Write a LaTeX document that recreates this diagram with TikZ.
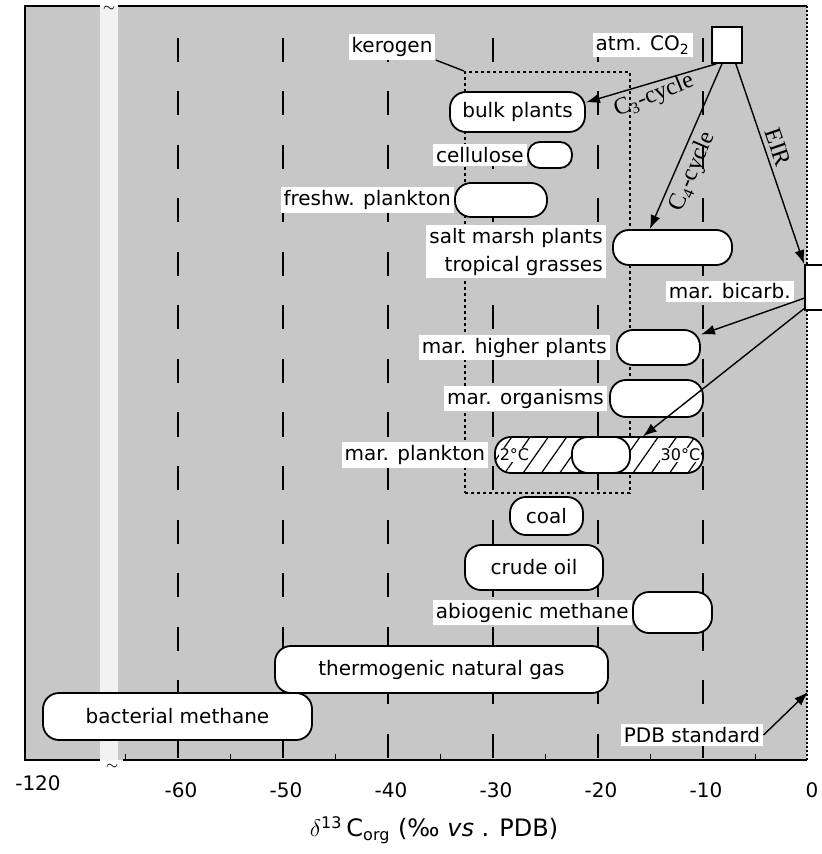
\documentclass[tikz,border=0pt]{standalone}
\usepackage{fontspec}
\setmainfont{DejaVu Sans}
\newfontfamily\cycfont{Liberation Serif}
\usetikzlibrary{arrows.meta, positioning, patterns.meta}

\begin{document}
\begin{tikzpicture}[
	x=0.5pt, y=-0.5pt,
	every node/.style={font=\normalsize},
	blob/.style={draw, line width=0.9pt, fill=white, rounded corners=8pt, inner sep=0pt},
	pool/.style={draw, line width=0.9pt, fill=white, inner sep=0pt, minimum width=15pt},
	tag/.style={fill=white, inner sep=1.5pt},
	cyc/.style={font=\cycfont\large, inner sep=0.5pt},
	gridline/.style={line width=0.9pt, dash pattern=on 12pt off 14.75pt},
	arrow/.style={-{Latex[length=7pt,width=5pt]}, line width=0.7pt}
	]
	
	% Frame and background
	\useasboundingbox (0,0) rectangle (821,854);
	\fill[black!22] (25,6) rectangle (807,760);
	\fill[black!5] (100,6) rectangle (118,760);
	\draw[line width=1.2pt] (100,6) -- (25,6) -- (25,760) -- (100,760);
	\draw[line width=1.2pt] (118,6) -- (807,6);
	\draw[line width=1.2pt] (123,760) -- (807,760);
	\draw[line width=0.8pt, dash pattern=on 1pt off 1pt] (807,6) -- (807,760);
	\node[font=\scriptsize] (brk1) at (109,9) {$\sim$};
	\node[font=\scriptsize] (brk2) at (112,767) {$\sim$};
	
	% Grid lines and ticks
	\foreach \d in {-60,-50,...,-10}
		\draw[gridline] ({808+10.5*\d},38) -- ({808+10.5*\d},760);
	\foreach \d in {-65,-55,...,-5}
		\draw[line width=0.8pt] ({808+10.5*\d},760) -- ({808+10.5*\d},754);
	\node (l120) at (38,783) {-120};
	\foreach \d in {-60,-50,...,-10}
		\node (l\d) at ({811+10.5*\d},790) {\d};
	\node (l0) at (812,790) {0};
	\node[font=\large] (xlab) at (434,830)
	{$\delta$\textsuperscript{13}\,C\textsubscript{org} (‰ \textit{vs} . PDB)};
	
	% Kerogen field
	\node[draw, line width=1pt, dash pattern=on 1.5pt off 1.5pt, inner sep=0pt,
	minimum width=82.5pt, minimum height=210.5pt] (kero) at (547.5,282.5) {};
	\node[tag] (kerolbl) at (392,47) {kerogen};
	\draw[line width=0.7pt] (kerolbl.south east) -- (kero.north west);
	
	% Ranges
	\node[blob, minimum width=67.5pt, minimum height=20pt] (bulk) at (517.5,112) {bulk plants};
	\node[blob, rounded corners=6pt, minimum width=22pt, minimum height=13pt] (cell) at (550,155) {};
	\node[blob, minimum width=46pt, minimum height=17pt] (fresh) at (501,200) {};
	\node[blob, minimum width=59.5pt, minimum height=17.5pt] (salt) at (672.5,247.5) {};
	\node[blob, minimum width=41.5pt, minimum height=17.5pt] (mhp) at (658.5,347.5) {};
	\node[blob, minimum width=46.5pt, minimum height=18.5pt] (morg) at (656.5,398.5) {};
	\node[blob, minimum width=104pt, minimum height=18pt, preaction={fill=white},
	pattern={Lines[angle=55,distance=7.5pt,line width=0.6pt]}] (mpl) at (599,455) {};
	\node[blob, minimum width=29pt, minimum height=18pt] (mplc) at (601,455) {};
	\node[blob, minimum width=36.5pt, minimum height=19pt] (coal) at (546.5,516) {coal};
	\node[blob, minimum width=69pt, minimum height=22.5pt] (crude) at (534,567.5) {crude oil};
	\node[blob, minimum width=39.5pt, minimum height=20.5pt] (abio) at (672.5,612.5) {};
	\node[blob, minimum width=166.5pt, minimum height=23.5pt] (thermo) at (441.5,669.5) {thermogenic natural gas};
	\node[blob, minimum width=134.5pt, minimum height=23.5pt] (bact) at (177.5,716.5) {bacterial methane};
	
	% Carbon pools
	\node[pool, minimum height=18pt] (co2) at (727,45) {};
	\node[pool, minimum height=22.5pt] (bicarb) at (820,287.5) {};
	
	% Labels
	\node[tag, left=9pt of co2] (co2lbl) {atm. CO\textsubscript{2}};
	\node[tag, left=0pt of cell] (celllbl) {cellulose};
	\node[tag, left=0pt of fresh] (freshlbl) {freshw. plankton};
	\node[tag, align=right, font={\fontsize{10}{14}\selectfont}, left=3pt of salt, yshift=-2pt] (saltlbl)
	{salt marsh plants\\tropical grasses};
	\node[tag, left=5pt of bicarb, yshift=-2pt] (bicarblbl) {mar. bicarb.};
	\node[tag, left=3pt of mhp] (mhplbl) {mar. higher plants};
	\node[tag, left=1pt of morg] (morglbl) {mar. organisms};
	\node[tag, left=3pt of mpl] (mpllbl) {mar. plankton};
	\node[tag, left=0pt of abio] (abiolbl) {abiogenic methane};
	\node[font=\footnotesize, fill=white, inner sep=0.5pt, right=2pt of mpl.west] (t2) {2°C};
	\node[font=\footnotesize, fill=white, inner sep=0.5pt, left=1pt of mpl.east] (t30) {30°C};
	\node[tag] (pdb) at (692,735) {PDB standard};
	\coordinate (pdbpt) at (808,692);
	
	% Pathways
	\draw[arrow] (co2.240) -- (bulk.8);
	\draw[arrow] (co2.255) -- (salt.141);
	\draw[arrow] (co2.295) -- (bicarb.north west);
	\draw[arrow] (bicarb.214) -- (mhp.17);
	\draw[arrow] (bicarb.233) -- (mpl.23);
	\draw[arrow] (pdb.east) -- (pdbpt);
	\node[cyc, rotate=22] (c3lbl) at (654,96) {C\textsubscript{3}-cycle};
	\node[cyc, rotate=67] (c4lbl) at (693,172) {C\textsubscript{4}-cycle};
	\node[cyc, rotate=-71] (eirlbl) at (778,147) {EIR};
	
\end{tikzpicture}
\end{document}
